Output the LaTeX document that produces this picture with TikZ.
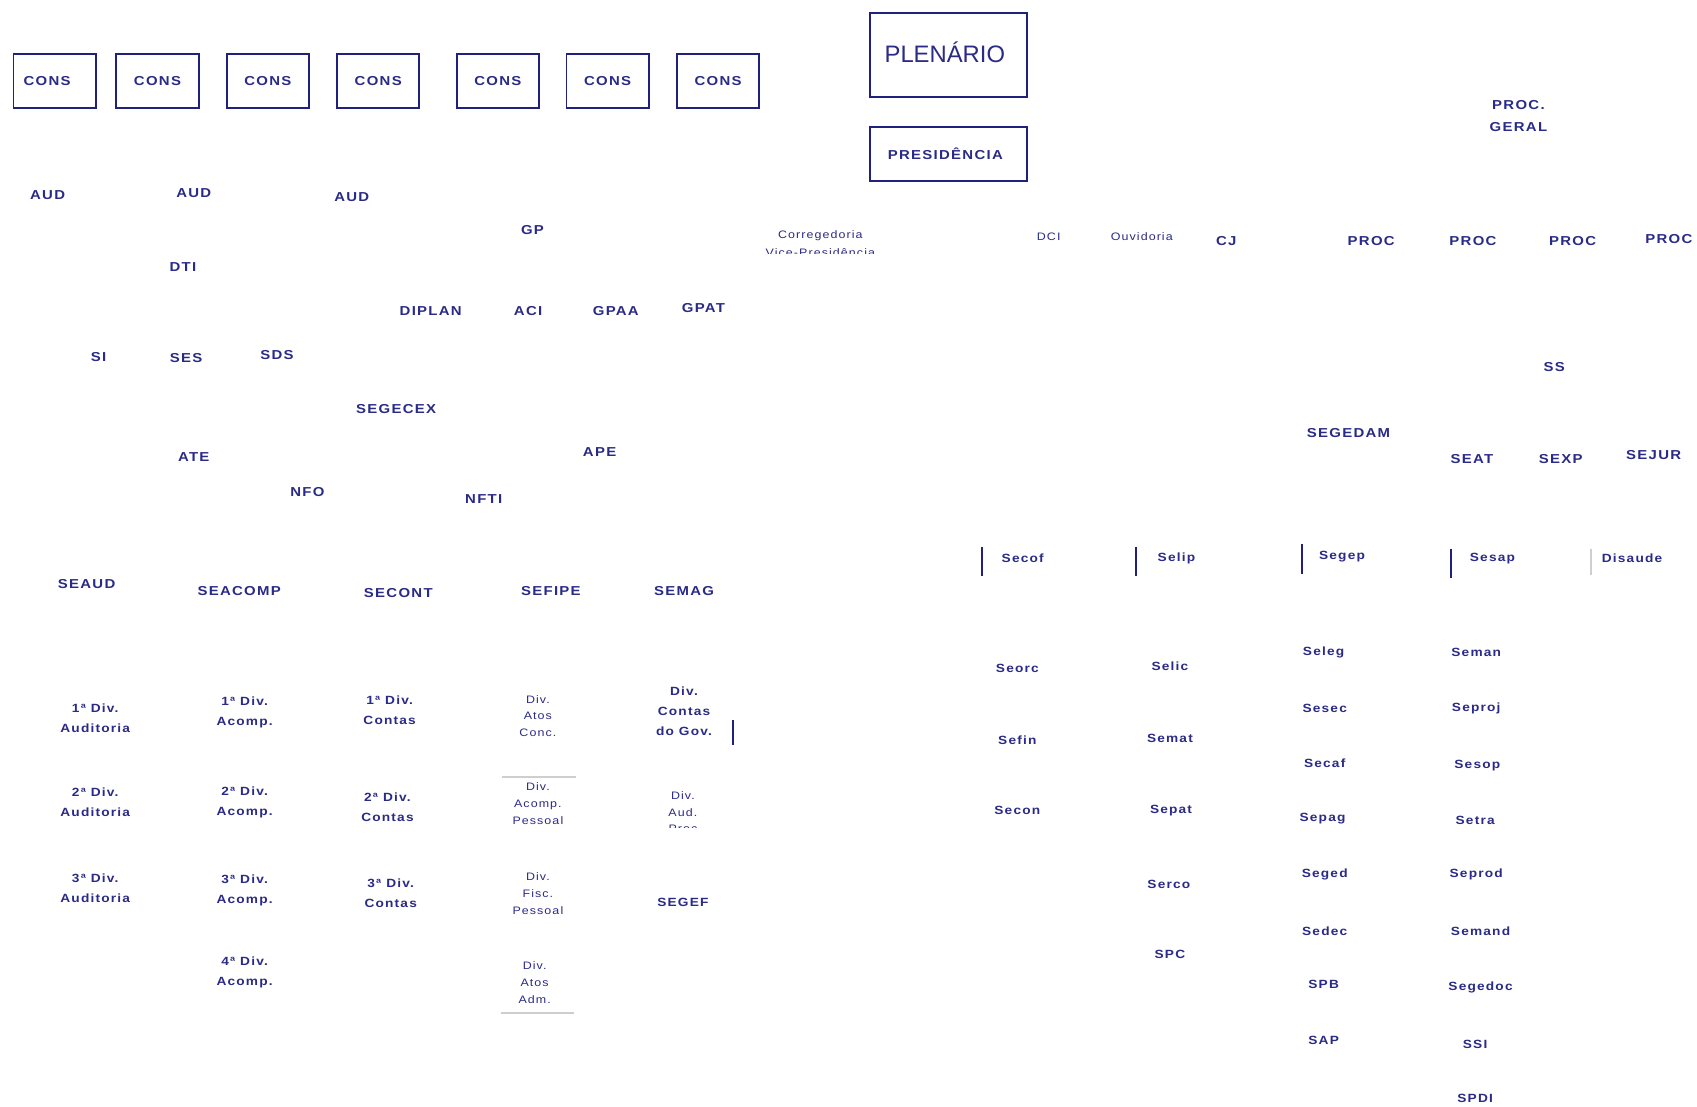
\documentclass[tikz,border=0pt]{standalone}
\usepackage{fontspec}
\setmainfont{Liberation Sans}
\newfontfamily\widesans[FakeStretch=1.15,LetterSpace=10]{Liberation Sans}
\usepackage{tikz}
\usetikzlibrary{positioning}
\definecolor{tcunavy}{RGB}{42,42,135}
\definecolor{boxnavy}{RGB}{32,32,125}
\definecolor{rulegray}{RGB}{205,205,210}

\begin{document}
\begin{tikzpicture}[
    x=1pt, y=-1pt,
    consbox/.style={draw=boxnavy, line width=1.7pt, minimum width=76pt, minimum height=50pt, inner sep=0pt, font=\widesans\bfseries\fontsize{12}{14}\selectfont, text=tcunavy},
    topbox/.style={draw=boxnavy, line width=1.7pt, minimum width=145pt, inner sep=0pt, text=tcunavy},
    unit/.style={inner sep=0pt, text=tcunavy, align=center, font=\widesans\bfseries\fontsize{12}{20}\selectfont},
    subunit/.style={inner sep=0pt, text=tcunavy, align=center, font=\widesans\bfseries\fontsize{11}{18.5}\selectfont},
    thinunit/.style={inner sep=0pt, text=tcunavy, align=center, font=\widesans\fontsize{10}{15.5}\selectfont},
    bar/.style={draw=boxnavy, line width=2pt},
    lightbar/.style={draw=rulegray, line width=1.2pt}
]
\useasboundingbox (0,0) rectangle (1568,1022);

% conselheiros
\node[consbox] (cons1) at (50.5,75) {CONS\hspace*{14pt}};
\node[consbox] (cons2) at (145.5,75) {CONS};
\node[consbox] (cons3) at (247.5,75) {CONS};
\node[consbox] (cons4) at (349.5,75) {CONS};
\node[consbox] (cons5) at (460,75) {CONS};
\node[consbox] (cons6) at (561.5,75) {CONS};
\node[consbox] (cons7) at (663.5,75) {CONS};

\node[topbox, minimum height=78pt] (plenario) at (876.5,51) {};
\node[inner sep=0pt, text=tcunavy, font=\fontsize{22}{26}\selectfont] (plenariotext) at (873,48) {PLENÁRIO};
\node[topbox, minimum height=50pt, font=\widesans\bfseries\fontsize{12}{14}\selectfont] (presidencia) at (876.5,142) {PRESIDÊNCIA\hspace*{6pt}};

\node[unit] (procgeral) at (1403,107) {PROC.\\GERAL};

% gabinetes e assessorias
\node[unit] (aud1) at (44,180) {AUD};
\node[unit] (aud2) at (179,178) {AUD};
\node[unit] (aud3) at (325,182) {AUD};
\node[unit] (gp) at (492,213) {GP};
\node[unit] (dti) at (169,247) {DTI};
\node[unit] (diplan) at (398,287) {DIPLAN};
\node[unit] (aci) at (488,287) {ACI};
\node[unit] (gpaa) at (569,287) {GPAA};
\node[unit] (gpat) at (650,285) {GPAT};
\node[unit] (si) at (91,330) {SI};
\node[unit] (ses) at (172,331) {SES};
\node[unit] (sds) at (256,328) {SDS};
\node[unit] (segecex) at (366,378) {SEGECEX};
\node[unit] (ate) at (179,422) {ATE};
\node[unit] (ape) at (554,418) {APE};
\node[unit] (nfo) at (284,455) {NFO};
\node[unit] (nfti) at (447,461) {NFTI};

\begin{scope}
\clip (690,200) rectangle (830,234);
\node[thinunit, font=\widesans\fontsize{10}{17}\selectfont] (corregedoria) at (758,225) {Corregedoria\\Vice-Presidência};
\end{scope}
\node[thinunit] (dci) at (969,219) {DCI};
\node[thinunit] (ouvidoria) at (1055,219) {Ouvidoria};
\node[unit] (cj) at (1133,223) {CJ};
\node[unit] (proc1) at (1267,223) {PROC};
\node[unit] (proc2) at (1361,223) {PROC};
\node[unit] (proc3) at (1453,223) {PROC};
\node[unit] (proc4) at (1542,221) {PROC};

\node[unit] (ss) at (1436,339) {SS};
\node[unit] (segedam) at (1246,400) {SEGEDAM};
\node[unit] (seat) at (1360,424) {SEAT};
\node[unit] (sexp) at (1442,424) {SEXP};
\node[unit] (sejur) at (1528,420) {SEJUR};

% secretarias da Segedam
\node[subunit] (secof) at (945,516) {Secof};
\node[subunit] (selip) at (1087,516) {Selip};
\node[subunit] (segep) at (1240,514) {Segep};
\node[subunit] (sesap) at (1379,516) {Sesap};
\node[subunit] (disaude) at (1508,516) {Disaude};
\draw[bar] (907,505) -- (907,532);
\draw[bar] (1050,505) -- (1050,532);
\draw[bar] (1203,503) -- (1203,530);
\draw[bar] (1341,507) -- (1341,534);
\draw[lightbar] (1470,507) -- (1470,531);

% secretarias da Segecex
\node[unit] (seaud) at (80,540) {SEAUD};
\node[unit] (seacomp) at (221,546) {SEACOMP};
\node[unit] (secont) at (368,548) {SECONT};
\node[unit] (sefipe) at (509,546) {SEFIPE};
\node[unit] (semag) at (632,546) {SEMAG};

\node[subunit] (divaud1) at (88,664) {1ª Div.\\Auditoria};
\node[subunit] (divaud2) at (88,741.5) {2ª Div.\\Auditoria};
\node[subunit] (divaud3) at (88,821) {3ª Div.\\Auditoria};
\node[subunit] (divacomp1) at (226,658.5) {1ª Div.\\Acomp.};
\node[subunit] (divacomp2) at (226,741.5) {2ª Div.\\Acomp.};
\node[subunit] (divacomp3) at (226,823) {3ª Div.\\Acomp.};
\node[subunit] (divacomp4) at (226,898.5) {4ª Div.\\Acomp.};
\node[subunit] (divcontas1) at (360,656) {1ª Div.\\Contas};
\node[subunit] (divcontas2) at (358,745.5) {2ª Div.\\Contas};
\node[subunit] (divcontas3) at (361,825) {3ª Div.\\Contas};

\node[thinunit] (divatosconc) at (497,661.5) {Div.\\Atos\\Conc.};
\node[thinunit] (divacomppes) at (497,742.5) {Div.\\Acomp.\\Pessoal};
\node[thinunit] (divfiscpes) at (497,825.5) {Div.\\Fisc.\\Pessoal};
\node[thinunit] (divatosadm) at (494,908) {Div.\\Atos\\Adm.};
\draw[lightbar] (464,718) -- (532,718);
\draw[lightbar] (463,936) -- (530,936);

\node[subunit] (divcontasgov) at (632,657) {Div.\\Contas\\do Gov.};
\draw[bar] (677,665) -- (677,688);
\begin{scope}
\clip (590,720) rectangle (680,765);
\node[thinunit] (divaudproc) at (631,750.5) {Div.\\Aud.\\Proc};
\end{scope}
\node[subunit] (segef) at (631,834) {SEGEF};

% servicos
\node[subunit] (seorc) at (940,618) {Seorc};
\node[subunit] (sefin) at (940,684) {Sefin};
\node[subunit] (secon) at (940,749) {Secon};

\node[subunit] (selic) at (1081,616) {Selic};
\node[subunit] (semat) at (1081,682) {Semat};
\node[subunit] (sepat) at (1082,749) {Sepat};
\node[subunit] (serco) at (1080,817) {Serco};
\node[subunit] (spc) at (1081,882) {SPC};

\node[subunit] (seleg) at (1223,603) {Seleg};
\node[subunit] (sesec) at (1224,655) {Sesec};
\node[subunit] (secaf) at (1224,705) {Secaf};
\node[subunit] (sepag) at (1222,756) {Sepag};
\node[subunit] (seged) at (1224,808) {Seged};
\node[subunit] (sedec) at (1224,860) {Sedec};
\node[subunit] (spb) at (1223,910) {SPB};
\node[subunit] (sap) at (1223,961) {SAP};

\node[subunit] (seman) at (1364,603) {Seman};
\node[subunit] (seproj) at (1364,655) {Seproj};
\node[subunit] (sesop) at (1365,707) {Sesop};
\node[subunit] (setra) at (1363,758) {Setra};
\node[subunit] (seprod) at (1364,808) {Seprod};
\node[subunit] (semand) at (1368,860) {Semand};
\node[subunit] (segedoc) at (1368,912) {Segedoc};
\node[subunit] (ssi) at (1363,965) {SSI};
\node[subunit] (spdi) at (1363,1015) {SPDI};
\end{tikzpicture}
\end{document}
